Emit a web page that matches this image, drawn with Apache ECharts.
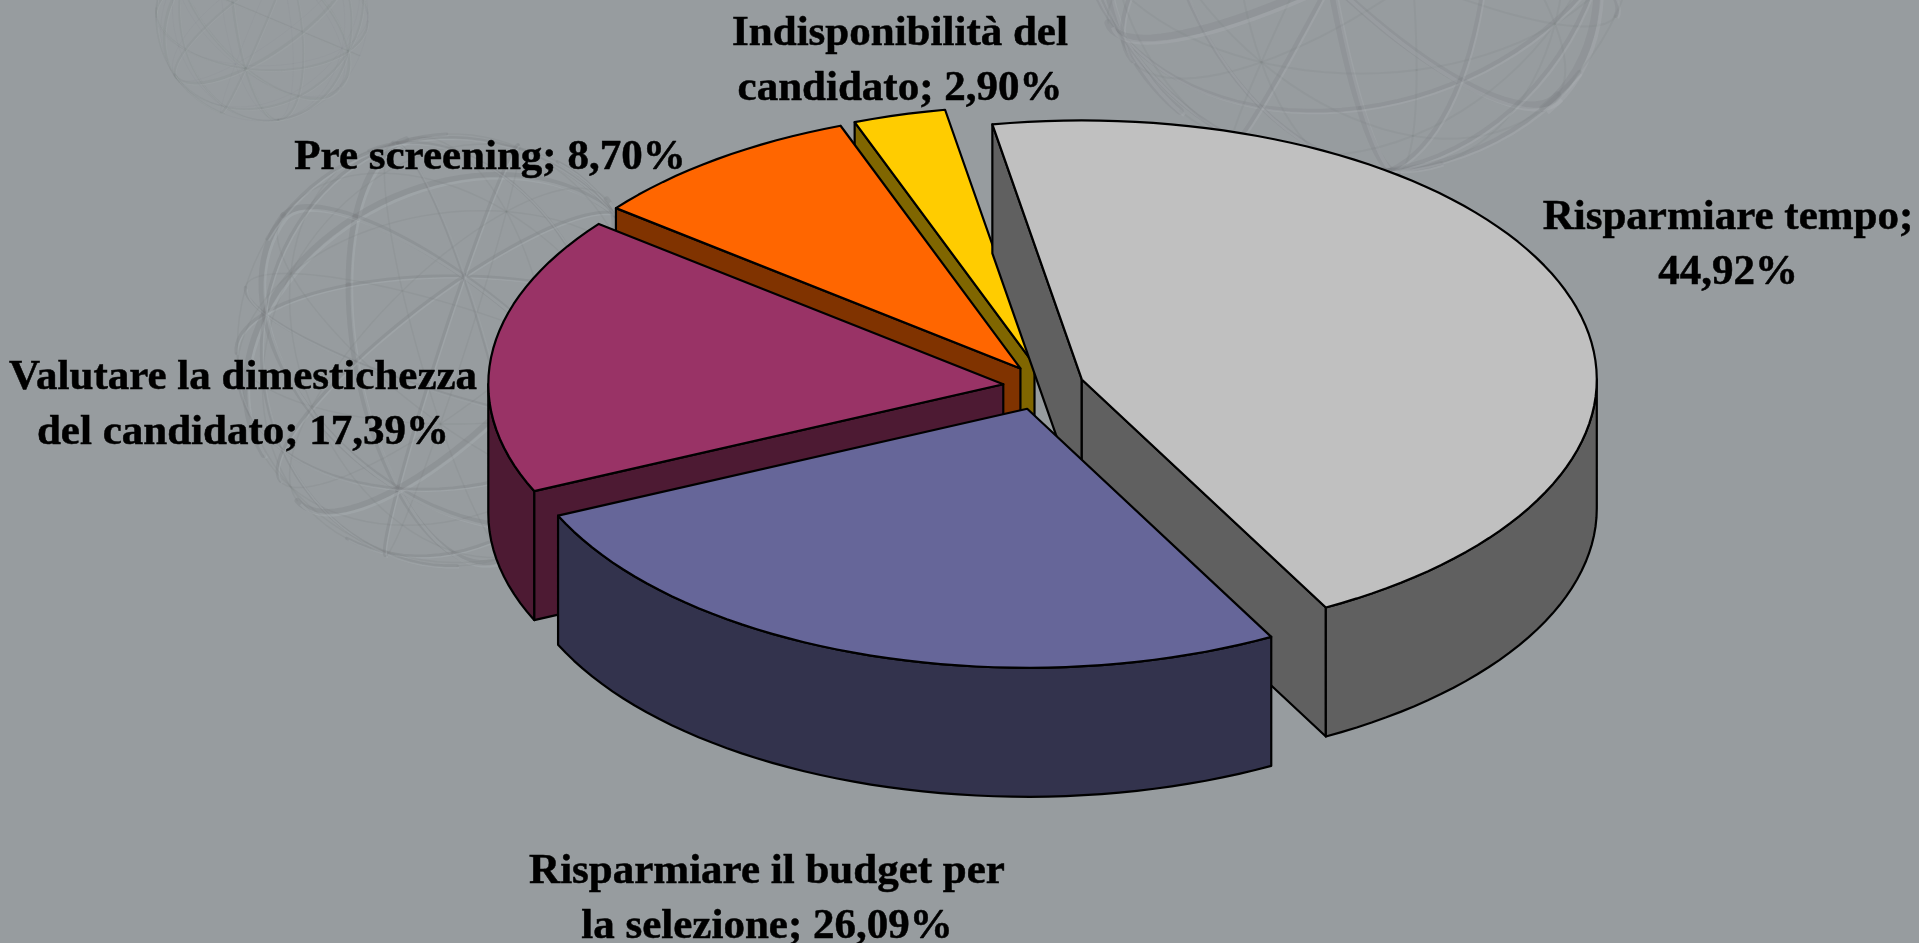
<!DOCTYPE html>
<html><head><meta charset="utf-8">
<style>html,body{margin:0;padding:0;background:#979c9f}#c{width:1919px;height:943px}</style>
<script src="https://cdn.jsdelivr.net/npm/echarts@6/dist/echarts.min.js"></script>
</head><body><div id="c"></div>
<script>
const categories = ['Risparmiare tempo','Risparmiare il budget per\nla selezione','Valutare la dimestichezza\ndel candidato','Pre screening','Indisponibilità del\ncandidato'];
const values = [44.92,26.09,17.39,8.70,2.90];
const separators = [';\n','; ','; ','; ','; '];
const topColors = ['#C0C0C0','#666699','#993366','#FF6600','#FFCC00'];
const wallColors = ['#606060','#33334D','#4D1A33','#803300','#806600'];
const paintOrder = [3,4,2,1,0];
const sliceShiftX = [0,-4,-1,0,1];
const labelCenters = [[1728,245],[767,899],[243,405],[490,158],[900,61]];

const CX=1044,CY=387,RX=515,RY=259,DEPTH=129,EX=40,EY=23,START=-10;
const total=values.reduce((a,b)=>a+b,0);
const rad=d=>d*Math.PI/180;
const chart=echarts.init(document.getElementById('c'),null,{renderer:'canvas'});

function renderSlice(params,api){
  const i=params.dataIndex, v=api.value(0);
  let a0=START; for(let k=0;k<i;k++) a0+=values[k]/total*360;
  const a1=a0+v/total*360, mid=(a0+a1)/2;
  const ax=CX+EX*Math.sin(rad(mid))+sliceShiftX[i], ay=CY-EY*Math.cos(rad(mid));
  const pt=t=>[ax+RX*Math.sin(rad(t)),ay-RY*Math.cos(rad(t))];
  const rim=[];
  const steps=Math.max(3,Math.round((a1-a0)/2));
  for(let s=0;s<=steps;s++) rim.push(pt(a0+(a1-a0)*s/steps));
  // visible outer wall: only the part of the rim facing the viewer
  const from=Math.max(a0,90),to=Math.min(a1,270);
  const front=[];
  if(to>from){const n=Math.max(2,Math.round((to-from)/2));for(let s=0;s<=n;s++) front.push(pt(from+(to-from)*s/n));}
  const down=p=>[p[0],p[1]+DEPTH];
  const lineStyle={stroke:'#000',lineWidth:2.2,lineJoin:'round'};
  const wall=Object.assign({fill:wallColors[i]},lineStyle);
  const base=paintOrder[i]*10;
  const poly=(pts,style,z)=>({type:'polygon',shape:{points:pts},style,z2:base+z,silent:true});
  const A=[ax,ay],B=rim[0],C=rim[rim.length-1];
  const kids=[];
  if(Math.sin(rad(a0))<0) kids.push(poly([A,B,down(B),down(A)],wall,1));
  if(Math.sin(rad(a1))>0) kids.push(poly([A,C,down(C),down(A)],wall,1));
  if(front.length) kids.push(poly(front.concat(front.map(down).reverse()),wall,2));
  kids.push(poly([A].concat(rim),Object.assign({fill:topColors[i]},lineStyle),3));
  return {type:'group',children:kids};
}
function renderLabel(params,api){
  const i=params.dataIndex;
  const pct=api.value(0).toFixed(2).replace('.',',')+'%';
  return {type:'text',z2:200,silent:true,x:labelCenters[i][0],y:labelCenters[i][1],
    style:{text:categories[i]+separators[i]+pct,font:'bold 43px "Liberation Serif"',fill:'#000',stroke:'#000',lineWidth:0.5,align:'center',verticalAlign:'middle',lineHeight:55}};
}

// faint geodesic wire-sphere watermark of the slide background
function sphere(cx,cy,r,tilt,spin,op){
  const out=[];
  const ct=Math.cos(tilt),st=Math.sin(tilt),cs=Math.cos(spin),ss=Math.sin(spin);
  const proj=(p)=>{
    const x1=p[0]*cs-p[2]*ss,z1=p[0]*ss+p[2]*cs;
    const y2=p[1]*ct-z1*st,z2=p[1]*st+z1*ct;
    return [cx+r*x1,cy+r*y2,z2];
  };
  const g=(1+Math.sqrt(5))/2;
  const normals=[[1,0,0],[0,1,0],[0,0,1],
    [1,g,1/g],[1,g,-1/g],[1,-g,1/g],[1,-g,-1/g],
    [g,1/g,1],[g,1/g,-1],[g,-1/g,1],[g,-1/g,-1],
    [1/g,1,g],[1/g,1,-g],[1/g,-1,g],[1/g,-1,-g]];
  normals.forEach((n,idx)=>{
    const l=Math.hypot(n[0],n[1],n[2]),N=n.map(c=>c/l);
    const a=Math.abs(N[0])<0.9?[1,0,0]:[0,1,0];
    const u=[N[1]*a[2]-N[2]*a[1],N[2]*a[0]-N[0]*a[2],N[0]*a[1]-N[1]*a[0]];
    const ul=Math.hypot(u[0],u[1],u[2]);u.forEach((c,k)=>u[k]=c/ul);
    const w=[N[1]*u[2]-N[2]*u[1],N[2]*u[0]-N[0]*u[2],N[0]*u[1]-N[1]*u[0]];
    let run=[],runFront=null;
    const flush=()=>{
      if(run.length<2) return;
      const pts=run.map(p=>[p[0],p[1]]);
      const wide=runFront?Math.max(2,r/(idx%3===0?38:70)):Math.max(1,r/150);
      out.push({type:'polyline',silent:true,z:0,shape:{points:pts},style:{stroke:'rgba(122,127,130,'+(runFront?op:op*0.6)+')',lineWidth:wide,fill:null,lineCap:'round'}});
      if(runFront) out.push({type:'polyline',silent:true,z:0,x:wide*0.6,y:wide*0.6,shape:{points:pts},style:{stroke:'rgba(176,181,184,'+op+')',lineWidth:Math.max(1,wide*0.5),fill:null}});
    };
    for(let k=0;k<=96;k++){
      const t=k/96*2*Math.PI;
      const q=proj([u[0]*Math.cos(t)+w[0]*Math.sin(t),u[1]*Math.cos(t)+w[1]*Math.sin(t),u[2]*Math.cos(t)+w[2]*Math.sin(t)]);
      const f=q[2]>=0;
      if(runFront!==null&&f!==runFront){flush();run=run.slice(-1);}
      runFront=f;run.push(q);
    }
    flush();
  });
  return out;
}
const watermark=[].concat(
  sphere(262,15,106,0.5,0.3,0.14),
  sphere(452,350,216,0.35,0.5,0.3),
  sphere(1360,-110,285,0.7,0.2,0.26)
);

chart.setOption({
  animation:false,
  backgroundColor:'#979c9f',
  graphic:{elements:watermark},
  xAxis:{show:false},yAxis:{show:false},
  series:[
    {type:'custom',coordinateSystem:'none',renderItem:renderSlice,data:values.map((v,i)=>({name:categories[i],value:[v]})),z:2,clip:false},
    {type:'custom',coordinateSystem:'none',renderItem:renderLabel,data:values.map((v,i)=>({name:categories[i],value:[v]})),z:3,clip:false}
  ]
});
</script></body></html>
